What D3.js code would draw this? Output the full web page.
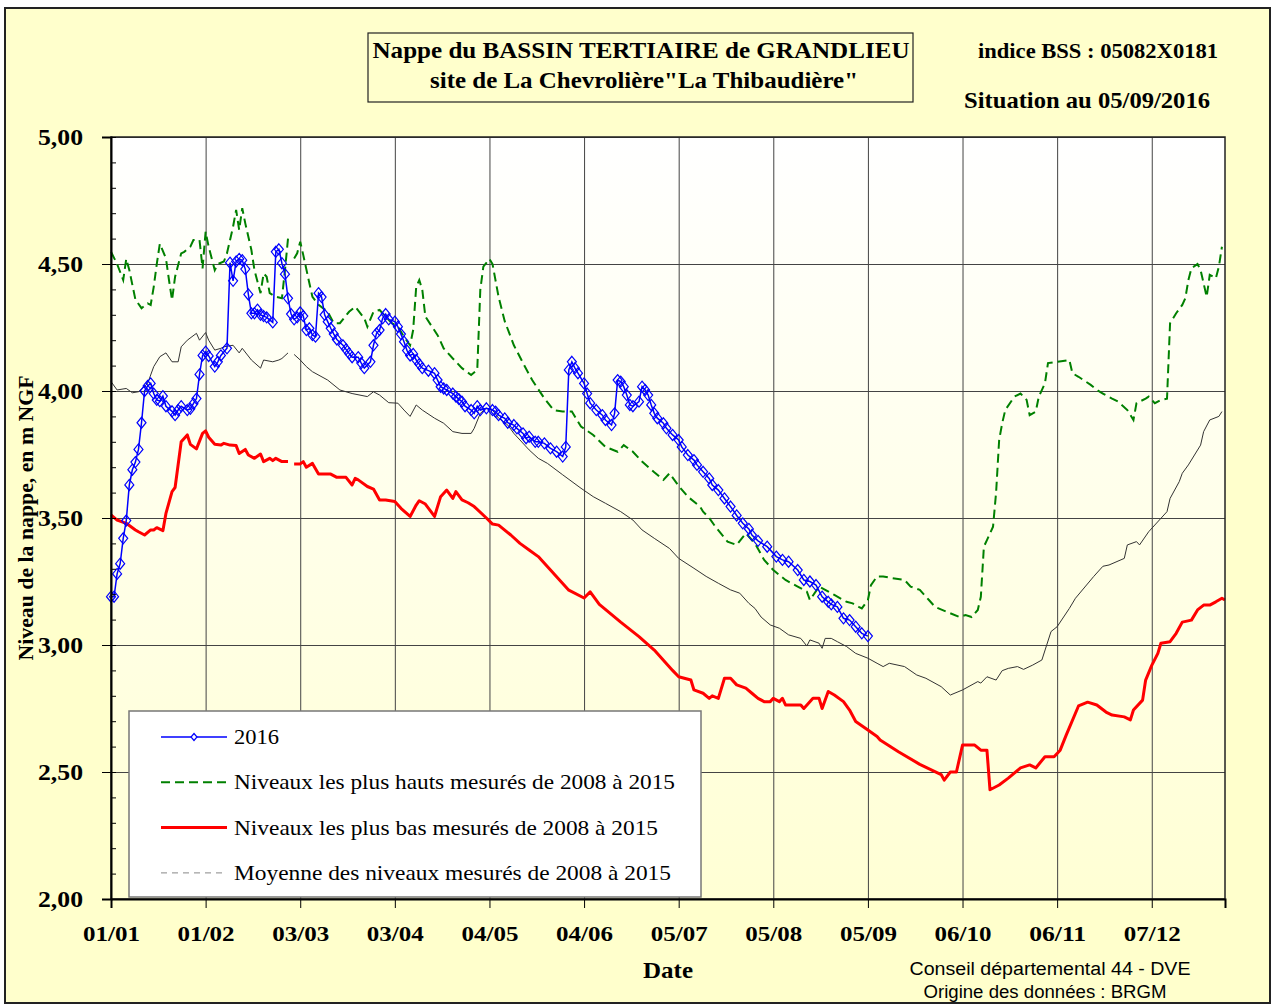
<!DOCTYPE html>
<html>
<head>
<meta charset="utf-8">
<script src="https://cdn.jsdelivr.net/npm/d3@7"></script>
<style>
body { margin: 0; background: #fff; }
svg { display: block; }
text { font-family: "Liberation Serif", "Times New Roman", serif; }
</style>
</head>
<body>
<svg width="1275" height="1006"></svg>
<script>
// day of year (0 = 01/01/2016) and level in m NGF
const xTickDays = [0, 31, 62, 93, 124, 155, 186, 217, 248, 279, 310, 341]
const xTickLabels = ['01/01', '01/02', '03/03', '03/04', '04/05', '04/06', '05/07', '05/08', '05/09', '06/10', '06/11', '07/12']
const yTicks = [2, 2.5, 3, 3.5, 4, 4.5, 5]

const series2016 = [[0,3.19],[1,3.19],[2,3.28],[3,3.32],[4,3.42],[5,3.49],[6,3.63],[7,3.69],[8,3.72],[9,3.77],[10,3.875],[11,4.00],[12,4.02],[13,4.03],[14,3.99],[15,3.965],[16,3.96],[17,3.98],[18,3.94],[20,3.92],[21,3.905],[22,3.925],[23,3.94],[25,3.925],[26,3.93],[27,3.95],[28,3.97],[29,4.065],[30,4.14],[31,4.155],[32,4.138],[34,4.096],[35,4.115],[36,4.14],[38,4.168],[39,4.505],[40,4.434],[41,4.51],[42,4.52],[43,4.515],[44,4.48],[45,4.38],[46,4.306],[47,4.306],[48,4.32],[49,4.30],[50,4.295],[51,4.29],[53,4.27],[54,4.548],[55,4.558],[56,4.503],[57,4.46],[58,4.365],[59,4.303],[60,4.282],[61,4.29],[62,4.31],[63,4.295],[64,4.24],[65,4.247],[66,4.22],[67,4.214],[68,4.385],[69,4.37],[70,4.30],[71,4.273],[72,4.247],[73,4.224],[74,4.203],[76,4.18],[77,4.164],[78,4.148],[79,4.133],[81,4.133],[82,4.11],[83,4.09],[85,4.115],[86,4.18],[87,4.227],[88,4.24],[89,4.286],[90,4.303],[91,4.282],[93,4.273],[94,4.253],[95,4.224],[96,4.194],[97,4.159],[98,4.14],[99,4.146],[100,4.122],[101,4.106],[102,4.09],[104,4.08],[106,4.07],[107,4.043],[108,4.017],[109,4.01],[110,4.004],[112,3.99],[113,3.978],[114,3.968],[115,3.958],[116,3.94],[118,3.925],[119,3.912],[120,3.94],[121,3.925],[123,3.932],[125,3.925],[126,3.919],[127,3.905],[129,3.892],[130,3.875],[132,3.866],[133,3.853],[135,3.833],[136,3.814],[137,3.82],[139,3.80],[140,3.80],[142,3.794],[144,3.774],[146,3.761],[148,3.742],[149,3.78],[150,4.083],[151,4.115],[152,4.09],[153,4.07],[155,4.03],[156,3.99],[157,3.952],[159,3.925],[161,3.905],[162,3.886],[164,3.866],[165,3.912],[166,4.043],[167,4.037],[168,4.017],[169,3.984],[170,3.945],[171,3.94],[173,3.958],[174,4.017],[175,4.004],[176,3.984],[177,3.945],[178,3.912],[179,3.893],[181,3.873],[182,3.853],[184,3.827],[186,3.807],[187,3.78],[189,3.748],[191,3.728],[192,3.709],[194,3.682],[196,3.656],[197,3.63],[199,3.61],[201,3.577],[203,3.545],[205,3.51],[207,3.479],[209,3.457],[210,3.433],[212,3.41],[215,3.387],[218,3.348],[220,3.335],[222,3.328],[225,3.295],[227,3.256],[229,3.25],[231,3.236],[233,3.19],[235,3.17],[236,3.16],[238,3.15],[240,3.105],[242,3.098],[244,3.072],[246,3.046],[248,3.035]]

const seriesMax = [[0,4.548],[2,4.50],[4,4.437],[5,4.52],[6,4.476],[8,4.36],[10,4.326],[12,4.345],[13,4.339],[14,4.41],[15,4.50],[16,4.58],[18,4.522],[19,4.437],[20,4.358],[21,4.45],[23,4.542],[24,4.548],[26,4.568],[27,4.594],[29,4.594],[30,4.483],[31,4.627],[32,4.568],[34,4.476],[35,4.50],[37,4.51],[38,4.542],[40,4.647],[41,4.713],[42,4.634],[43,4.72],[44,4.66],[46,4.555],[47,4.476],[49,4.385],[50,4.463],[51,4.45],[52,4.385],[54,4.371],[56,4.365],[57,4.476],[58,4.60],[59,null],[60,4.522],[61,4.542],[62,4.588],[63,4.535],[65,4.424],[66,4.371],[68,4.339],[71,4.312],[73,4.267],[75,4.267],[78,4.312],[80,4.332],[83,4.286],[84,4.253],[86,4.312],[88,4.319],[90,4.293],[92,4.267],[94,4.253],[96,4.214],[98,4.18],[99,4.24],[100,4.41],[101,4.437],[102,4.398],[103,4.293],[107,4.22],[109,4.168],[112,4.128],[115,4.09],[118,4.063],[120,4.083],[121,4.398],[122,4.49],[124,4.52],[125,4.50],[127,4.37],[129,4.275],[132,4.18],[135,4.11],[138,4.043],[142,3.971],[145,3.925],[148,3.919],[151,3.919],[154,3.86],[158,3.827],[162,3.78],[166,3.761],[168,3.787],[171,3.761],[174,3.722],[178,3.68],[181,3.65],[183,3.676],[186,3.626],[189,3.584],[193,3.545],[194,3.525],[196,3.50],[198,3.466],[202,3.407],[205,3.394],[208,3.44],[211,3.40],[214,3.335],[217,3.295],[221,3.256],[225,3.23],[228,3.21],[229,3.177],[232,3.23],[237,3.197],[241,3.17],[243,3.164],[245,3.15],[246,3.144],[248,3.177],[249,3.236],[251,3.27],[253,3.27],[256,3.263],[260,3.256],[262,3.23],[265,3.217],[268,3.177],[270,3.15],[274,3.13],[278,3.11],[280,3.118],[282,3.11],[284,3.138],[285,3.19],[286,3.387],[287,3.413],[289,3.466],[290,3.60],[291,3.807],[292,3.873],[293,3.925],[296,3.978],[298,3.99],[300,3.965],[301,3.905],[303,3.919],[304,3.978],[306,4.03],[307,4.11],[310,4.115],[314,4.122],[315,4.07],[317,4.056],[321,4.024],[323,4.004],[325,3.99],[328,3.97],[330,3.958],[333,3.925],[335,3.886],[336,3.952],[339,3.97],[340,3.978],[342,3.952],[344,3.965],[346,3.97],[347,4.267],[349,4.306],[351,4.339],[352,4.365],[353,4.437],[354,4.483],[356,4.50],[357,4.476],[359,4.371],[360,4.457],[362,4.444],[363,4.49],[364,4.568]]

const seriesMin = [[0,3.512],[2,3.492],[5,3.479],[8,3.453],[9,3.446],[11,3.433],[13,3.453],[14,3.453],[15,3.462],[17,3.45],[18,3.518],[20,3.604],[21,3.62],[23,3.80],[25,3.827],[26,3.79],[28,3.772],[30,3.833],[31,3.843],[32,3.818],[34,3.79],[36,3.787],[37,3.794],[39,3.787],[41,3.785],[42,3.754],[44,3.77],[45,3.748],[47,3.735],[49,3.752],[50,3.722],[52,3.735],[53,3.726],[54,3.735],[56,3.722],[58,3.722],[59,null],[60,3.713],[62,3.713],[63,3.722],[64,3.70],[66,3.715],[68,3.673],[72,3.673],[74,3.66],[77,3.66],[79,3.63],[80,3.656],[81,3.65],[84,3.624],[86,3.614],[88,3.571],[90,3.571],[93,3.565],[95,3.538],[98,3.506],[100,3.551],[101,3.568],[103,3.555],[106,3.506],[108,3.584],[110,3.61],[112,3.577],[113,3.604],[115,3.571],[117,3.56],[119,3.545],[123,3.50],[125,3.476],[127,3.472],[131,3.433],[134,3.40],[137,3.374],[140,3.348],[150,3.216],[155,3.185],[157,3.209],[160,3.16],[167,3.09],[173,3.033],[178,2.98],[181,2.94],[184,2.90],[186,2.875],[190,2.862],[191,2.823],[194,2.81],[196,2.79],[197,2.80],[199,2.79],[201,2.869],[203,2.869],[205,2.843],[208,2.83],[210,2.81],[212,2.79],[214,2.777],[216,2.777],[217,2.79],[219,2.777],[220,2.79],[221,2.764],[226,2.764],[227,2.75],[230,2.79],[232,2.79],[233,2.75],[235,2.817],[237,2.803],[240,2.777],[242,2.744],[244,2.699],[248,2.665],[251,2.64],[252,2.626],[258,2.58],[265,2.53],[272,2.49],[273,2.468],[275,2.50],[277,2.50],[279,2.606],[283,2.606],[285,2.586],[287,2.586],[288,2.43],[291,2.449],[294,2.476],[298,2.516],[301,2.528],[303,2.516],[306,2.56],[309,2.56],[311,2.586],[313,2.646],[317,2.76],[320,2.775],[323,2.764],[326,2.736],[328,2.724],[332,2.717],[334,2.705],[335,2.744],[338,2.783],[339,2.862],[341,2.92],[343,2.967],[344,3.007],[347,3.013],[349,3.046],[351,3.09],[354,3.098],[356,3.138],[358,3.157],[360,3.157],[362,3.17],[364,3.184],[365,3.177]]

const seriesMean = [[0,4.037],[2,4.004],[5,4.01],[7,3.993],[9,3.997],[12,4.03],[14,4.096],[16,4.135],[18,4.15],[20,4.115],[22,4.115],[23,4.174],[25,4.20],[28,4.227],[29,4.20],[31,4.23],[32,4.20],[34,4.161],[36,4.168],[37,4.174],[40,4.18],[42,4.15],[43,4.168],[46,4.122],[49,4.09],[50,4.122],[53,4.115],[55,4.122],[56,4.128],[58,4.15],[59,null],[60,4.144],[62,4.122],[64,4.096],[66,4.076],[71,4.043],[75,4.004],[79,3.99],[84,3.978],[86,3.997],[88,3.984],[91,3.954],[94,3.952],[96,3.925],[98,3.90],[100,3.945],[102,3.925],[106,3.893],[109,3.873],[112,3.84],[115,3.833],[118,3.833],[119,3.853],[121,3.912],[123,3.932],[125,3.925],[127,3.893],[130,3.866],[132,3.833],[134,3.807],[137,3.768],[140,3.735],[143,3.715],[148,3.67],[154,3.617],[158,3.584],[162,3.558],[167,3.525],[171,3.492],[174,3.453],[178,3.42],[183,3.38],[186,3.341],[191,3.302],[195,3.27],[199,3.243],[203,3.217],[206,3.204],[209,3.164],[211,3.144],[213,3.11],[216,3.079],[219,3.066],[222,3.04],[226,3.026],[228,2.996],[229,3.02],[232,3.007],[233,2.987],[234,3.026],[236,3.026],[238,3.013],[241,2.994],[244,2.967],[248,2.948],[251,2.928],[253,2.915],[255,2.928],[260,2.915],[264,2.882],[267,2.869],[272,2.836],[275,2.803],[279,2.823],[284,2.856],[285,2.85],[287,2.875],[290,2.862],[292,2.899],[294,2.908],[297,2.915],[299,2.904],[302,2.921],[305,2.941],[308,3.053],[310,3.072],[314,3.144],[316,3.184],[322,3.27],[325,3.31],[327,3.315],[332,3.341],[333,3.394],[336,3.407],[337,3.394],[340,3.446],[346,3.525],[347,3.577],[350,3.643],[351,3.676],[353,3.709],[357,3.787],[358,3.84],[360,3.886],[363,3.90],[364,3.919]]

const legendLabels = ['2016', 'Niveaux les plus hauts mesurés de 2008 à 2015', 'Niveaux les plus bas mesurés de 2008 à 2015', 'Moyenne des niveaux mesurés de 2008 à 2015']

const svg = d3.select('svg')
const margin = { top: 137, right: 1225, bottom: 899, left: 111 }
const frWidth = margin.right - margin.left,
      frHeight = margin.bottom - margin.top

const fr = d3.formatLocale({ decimal: ',', thousands: ' ', grouping: [3], currency: ['', ' €'] })
const fmt = fr.format('.2f')

// the original font is drawn wider than Liberation Serif: stretch to the measured widths
const fit = (sel, len) => sel.attr('textLength', len).attr('lengthAdjust', 'spacingAndGlyphs')

// outer frame
svg.append('rect')
    .attr('x', 5).attr('y', 8).attr('width', 1265).attr('height', 995)
    .attr('fill', '#ffffcc').attr('stroke', '#222').attr('stroke-width', 2)

// plot gradient
const defs = svg.append('defs')
const grad = defs.append('linearGradient').attr('id', 'bg').attr('x1', 0).attr('y1', 0).attr('x2', 0).attr('y2', 1)
grad.append('stop').attr('offset', '0%').attr('stop-color', '#ffffff')
grad.append('stop').attr('offset', '100%').attr('stop-color', '#ffffd4')

const x = d3.scaleLinear().domain([0, 365]).range([margin.left, margin.right])
const y = d3.scaleLinear().domain([2, 5]).range([margin.bottom, margin.top])

svg.append('rect')
    .attr('x', margin.left).attr('y', margin.top)
    .attr('width', frWidth).attr('height', frHeight)
    .attr('fill', 'url(#bg)')

// grid
svg.append('g')
    .attr('transform', `translate(0,${margin.bottom})`)
    .call(d3.axisBottom(x).tickValues(xTickDays).tickSize(-frHeight).tickFormat(''))
    .call(g => g.select('.domain').remove())
    .call(g => g.selectAll('line').attr('stroke', '#444').attr('stroke-width', 1))
svg.append('g')
    .attr('transform', `translate(${margin.left},0)`)
    .call(d3.axisLeft(y).tickValues(yTicks).tickSize(-frWidth).tickFormat(''))
    .call(g => g.select('.domain').remove())
    .call(g => g.selectAll('line').attr('stroke', '#444').attr('stroke-width', 1))

// series
const line = d3.line()
    .defined(d => d[1] !== null)
    .x(d => x(d[0]))
    .y(d => y(d[1]))

svg.append('path').datum(seriesMean)
    .attr('fill', 'none').attr('stroke', '#333').attr('stroke-width', 1)
    .attr('d', line)
svg.append('path').datum(seriesMin)
    .attr('fill', 'none').attr('stroke', '#ff0000').attr('stroke-width', 3)
    .attr('stroke-linejoin', 'round')
    .attr('d', line)
svg.append('path').datum(seriesMax)
    .attr('fill', 'none').attr('stroke', '#008000').attr('stroke-width', 2)
    .attr('stroke-dasharray', '9,5')
    .attr('d', line)
svg.append('path').datum(series2016)
    .attr('fill', 'none').attr('stroke', '#0000ff').attr('stroke-width', 1.5)
    .attr('d', line)

const diamond = 'M0,-5.5L4.5,0L0,5.5L-4.5,0Z'
svg.append('g').selectAll('path')
    .data(series2016)
    .join('path')
    .attr('d', diamond)
    .attr('transform', d => `translate(${x(d[0])},${y(d[1])})`)
    .attr('fill', 'none').attr('stroke', '#0000ff').attr('stroke-width', 1.2)

// plot border
svg.append('rect')
    .attr('x', margin.left).attr('y', margin.top)
    .attr('width', frWidth).attr('height', frHeight)
    .attr('fill', 'none').attr('stroke', '#222').attr('stroke-width', 1.5)

// y axis
const yMinor = d3.range(20, 51).map(v => v / 10)
svg.append('g')
    .attr('transform', `translate(${margin.left},0)`)
    .call(d3.axisLeft(y).tickValues(yMinor).tickSize(-5).tickFormat(''))
    .call(g => g.select('.domain').remove())
    .call(g => g.selectAll('line').attr('stroke', '#000'))
const yAxis = svg.append('g')
    .attr('transform', `translate(${margin.left},0)`)
    .call(d3.axisLeft(y).tickValues(yTicks).tickSize(9).tickPadding(19).tickFormat(fmt))
yAxis.select('.domain').attr('stroke', '#000').attr('stroke-width', 2)
yAxis.selectAll('.tick line').attr('x2', -9).attr('x1', 5).attr('stroke', '#000')
yAxis.selectAll('text')
    .style('font-family', '"Liberation Serif", serif')
    .style('font-size', '23px').style('font-weight', 'bold').attr('fill', '#000')
    .call(fit, 45)

// x axis
const xAxis = svg.append('g')
    .attr('transform', `translate(0,${margin.bottom})`)
    .call(d3.axisBottom(x).tickValues(xTickDays).tickSize(9).tickPadding(17)
        .tickFormat((d, i) => xTickLabels[i]))
xAxis.select('.domain').attr('stroke', '#000').attr('stroke-width', 2)
xAxis.selectAll('.tick line').attr('stroke', '#000')
xAxis.selectAll('text')
    .style('font-family', '"Liberation Serif", serif')
    .style('font-size', '22px').style('font-weight', 'bold').attr('fill', '#000')
    .call(fit, 57)

// titles
svg.append('rect')
    .attr('x', 368).attr('y', 33).attr('width', 545).attr('height', 69)
    .attr('fill', '#ffffcc').attr('stroke', '#222').attr('stroke-width', 1.2)
svg.append('text').attr('x', 641).attr('y', 58).attr('text-anchor', 'middle')
    .attr('font-size', 23).attr('font-weight', 'bold')
    .text('Nappe du BASSIN TERTIAIRE de GRANDLIEU').call(fit, 537)
svg.append('text').attr('x', 644).attr('y', 88).attr('text-anchor', 'middle')
    .attr('font-size', 23).attr('font-weight', 'bold')
    .text('site de La Chevrolière"La Thibaudière"').call(fit, 428)
svg.append('text').attr('x', 1098).attr('y', 58).attr('text-anchor', 'middle')
    .attr('font-size', 21).attr('font-weight', 'bold')
    .text('indice BSS : 05082X0181').call(fit, 240)
svg.append('text').attr('x', 1087).attr('y', 108).attr('text-anchor', 'middle')
    .attr('font-size', 23).attr('font-weight', 'bold')
    .text('Situation au 05/09/2016').call(fit, 246)

svg.append('text').attr('x', 668).attr('y', 978).attr('text-anchor', 'middle')
    .attr('font-size', 23).attr('font-weight', 'bold')
    .text('Date').call(fit, 50)
svg.append('text')
    .attr('transform', 'translate(33,518) rotate(-90)')
    .attr('text-anchor', 'middle')
    .attr('font-size', 20).attr('font-weight', 'bold')
    .text('Niveau de la nappe, en m NGF').call(fit, 285)

svg.append('text').attr('x', 1050).attr('y', 975).attr('text-anchor', 'middle')
    .style('font-family', '"Liberation Sans", Arial, sans-serif').attr('font-size', 18)
    .text('Conseil départemental 44 - DVE').call(fit, 281)
svg.append('text').attr('x', 1045).attr('y', 998).attr('text-anchor', 'middle')
    .style('font-family', '"Liberation Sans", Arial, sans-serif').attr('font-size', 18)
    .text('Origine des données : BRGM').call(fit, 243)

// legend
const legend = svg.append('g').attr('transform', 'translate(129,711)')
legend.append('rect')
    .attr('width', 572).attr('height', 186)
    .attr('fill', '#fff').attr('stroke', '#777').attr('stroke-width', 1.5)
const legendStyles = [
    { stroke: '#0000ff', width: 1.5, dash: null },
    { stroke: '#008000', width: 2, dash: '9,5' },
    { stroke: '#ff0000', width: 3, dash: null },
    { stroke: '#888', width: 1, dash: '6,5' }
]
const legendWidths = [45, 441, 424, 437]
legendLabels.forEach((label, i) => {
    const ly = 26 + i * 45.3
    legend.append('line')
        .attr('x1', 32).attr('x2', 98).attr('y1', ly).attr('y2', ly)
        .attr('stroke', legendStyles[i].stroke)
        .attr('stroke-width', legendStyles[i].width)
        .attr('stroke-dasharray', legendStyles[i].dash)
    if (i === 0) {
        legend.append('path').attr('d', 'M0,-3.5L3,0L0,3.5L-3,0Z')
            .attr('transform', `translate(65,${ly})`)
            .attr('fill', '#fff').attr('stroke', '#0000ff').attr('stroke-width', 1.2)
    }
    legend.append('text')
        .attr('x', 105).attr('y', ly + 7)
        .attr('font-size', 22)
        .text(label).call(fit, legendWidths[i])
})
</script>
</body>
</html>
